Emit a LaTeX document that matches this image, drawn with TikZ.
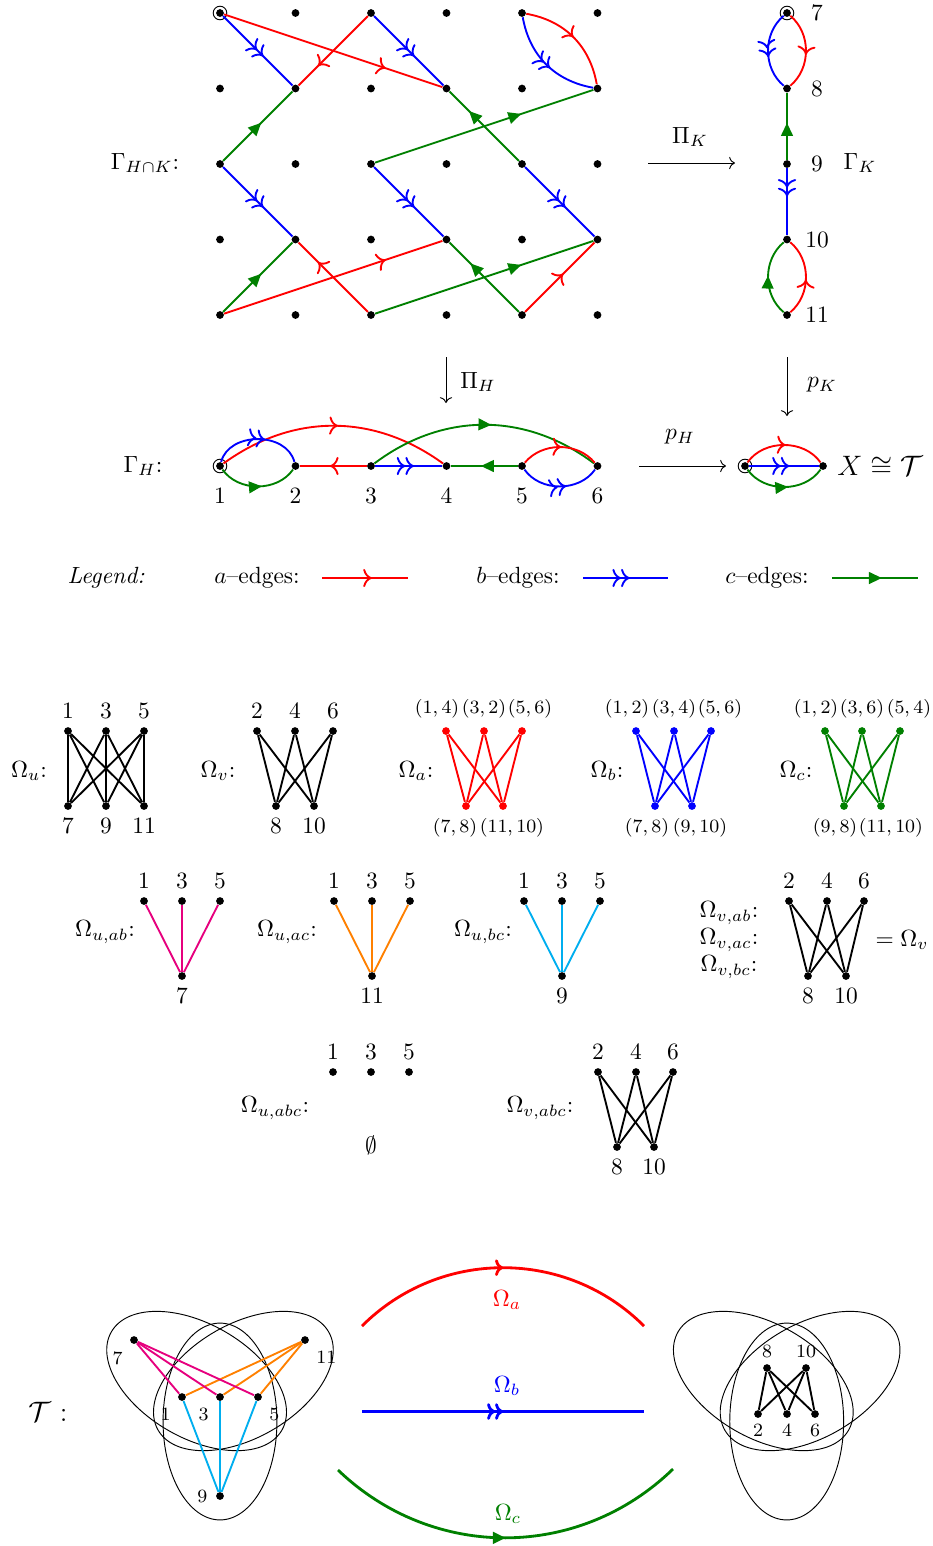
\documentclass[tikz,border=0pt]{standalone}
\usepackage{amsmath,amssymb}
\usepackage{tikz}
\usetikzlibrary{arrows.meta,decorations.markings}
\definecolor{cgreen}{rgb}{0,0.5,0}
\definecolor{abpink}{HTML}{E6007E}
\definecolor{acorange}{HTML}{FF8000}
\definecolor{bccyan}{HTML}{00AEEF}
\tikzset{
  dot/.style={circle,fill,inner sep=0pt,minimum size=3.3pt},
  plab/.style={font=\footnotesize,text=black},
  aedge/.style={red,thick,postaction={decorate},
    decoration={markings,mark=at position #1 with {\arrow{To[scale=1.1]}}}},
  aedge/.default=0.55,
  bedge/.style={blue,thick,postaction={decorate},
    decoration={markings,mark=at position #1 with {\arrow{To[scale=1.1]To[scale=1.1]}}}},
  bedge/.default=0.58,
  cedge/.style={cgreen,thick,postaction={decorate},
    decoration={markings,mark=at position #1 with {\arrow{Triangle[length=5.5pt,width=5pt]}}}},
  cedge/.default=0.55,
  lobe/.style={thin},
}

\begin{document}
\begin{tikzpicture}[x=0.015cm,y=-0.015cm]
  \useasboundingbox (0,0) rectangle (933,1546);

  % Gamma_{H cap K}
  \node (ghk) at (145,163) {$\Gamma_{H\cap K}$:};
  \foreach \i in {0,...,5}
    \foreach \j in {0,...,4}
      \node[dot] (g\i\j) at ({220+75.5*\i},{13+75.5*\j}) {};
  \draw (g00) circle (2.9pt);
  \draw[aedge=0.74] (g00) -- (g31);
  \draw[aedge=0.74] (g04) -- (g33);
  \draw[aedge=0.72] (g20) -- (g11);
  \draw[aedge=0.72] (g24) -- (g13);
  \draw[aedge=0.5] (g40) to[out=-10,in=100] (g51);
  \draw[aedge] (g44) -- (g53);
  \draw[bedge] (g00) -- (g11);
  \draw[bedge] (g02) -- (g13);
  \draw[bedge] (g20) -- (g31);
  \draw[bedge] (g22) -- (g33);
  \draw[bedge=0.55] (g40) to[out=-80,in=170] (g51);
  \draw[bedge] (g42) -- (g53);
  \draw[cedge] (g02) -- (g11);
  \draw[cedge] (g04) -- (g13);
  \draw[cedge=0.67] (g22) -- (g51);
  \draw[cedge=0.67] (g24) -- (g53);
  \draw[cedge=0.72] (g42) -- (g31);
  \draw[cedge=0.7] (g44) -- (g33);

  % Gamma_K
  \foreach \k/\y in {7/13,8/88.5,9/164,10/239.5,11/315} {
    \node[dot] (k\k) at (787,\y) {};
    \node (kl\k) at (817,\y) {\k};
  }
  \draw (k7) circle (2.9pt);
  \draw[bedge] (k7) to[bend right=50] (k8);
  \draw[aedge] (k7) to[bend left=50] (k8);
  \draw[cedge] (k9) -- (k8);
  \draw[bedge=0.42] (k9) -- (k10);
  \draw[cedge=0.52] (k11) to[bend left=50] (k10);
  \draw[aedge=0.47] (k11) to[bend right=50] (k10);
  \node (gk) at (860,163) {$\Gamma_K$};

  % maps
  \coordinate (pik1) at (648,163);
  \coordinate (pik2) at (735,163);
  \draw[->] (pik1) -- (pik2);
  \node (lpik) at (690,137) {$\Pi_K$};
  \coordinate (pih1) at (446,357);
  \coordinate (pih2) at (446,403);
  \draw[->] (pih1) -- (pih2);
  \node (lpih) at (478,382) {$\Pi_H$};
  \coordinate (pk1) at (787,357);
  \coordinate (pk2) at (787,416);
  \draw[->] (pk1) -- (pk2);
  \node (lpk) at (822,385) {$p_K$};
  \coordinate (ph1) at (639,466);
  \coordinate (ph2) at (726,466);
  \draw[->] (ph1) -- (ph2);
  \node (lph) at (680,437) {$p_H$};

  % Gamma_H
  \node (gh) at (143,466) {$\Gamma_H$:};
  \foreach \h/\x in {1/220,2/295.5,3/371,4/446.5,5/522,6/597.5} {
    \node[dot] (h\h) at (\x,466) {};
    \node (hl\h) at (\x,496) {\h};
  }
  \draw (h1) circle (2.9pt);
  \draw[aedge=0.52] (h1) to[bend left=36] (h4);
  \draw[cedge=0.53] (h3) to[bend left=37] (h6);
  \draw[bedge] (h1) to[bend left=75,looseness=1.1] (h2);
  \draw[cedge] (h1) to[bend right=55] (h2);
  \draw[aedge] (h3) -- (h2);
  \draw[bedge] (h3) -- (h4);
  \draw[cedge] (h5) -- (h4);
  \draw[aedge=0.52] (h5) to[bend left=50] (h6);
  \draw[bedge] (h5) to[bend right=55] (h6);

  % X = T
  \node[dot] (x0) at (745,466) {};
  \node[dot] (x1) at (823,466) {};
  \draw (x0) circle (2.9pt);
  \draw[aedge=0.52] (x0) to[bend left=55] (x1);
  \draw[bedge] (x0) -- (x1);
  \draw[cedge] (x0) to[bend right=55] (x1);
  \node[font=\large] (xlab) at (880,466) {$X\cong\mathcal{T}$};

  % legend
  \node (leg) at (106,578) {\textit{Legend:}};
  \node (lga) at (257,578) {$a$--edges:};
  \coordinate (la1) at (322,578);
  \coordinate (la2) at (408,578);
  \draw[aedge=0.58] (la1) -- (la2);
  \node (lgb) at (518,578) {$b$--edges:};
  \coordinate (lb1) at (583,578);
  \coordinate (lb2) at (668,578);
  \draw[bedge=0.55] (lb1) -- (lb2);
  \node (lgc) at (767,578) {$c$--edges:};
  \coordinate (lc1) at (832,578);
  \coordinate (lc2) at (918,578);
  \draw[cedge=0.58] (lc1) -- (lc2);

  % Omega_u
  \node (omu) at (29,771) {$\Omega_u$:};
  \foreach \n/\x in {1/68,3/106,5/144}
    \node[dot,label=above:$\n$] (u\n) at (\x,731) {};
  \foreach \n/\x in {7/68,9/106,11/144}
    \node[dot,label=below:$\n$] (u\n) at (\x,806) {};
  \foreach \s in {1,3,5}
    \foreach \t in {7,9,11}
      \draw[thick] (u\s) -- (u\t);

  % Omega_v
  \node (omv) at (218,771) {$\Omega_v$:};
  \foreach \n/\x in {2/257,4/295,6/333}
    \node[dot,label=above:$\n$] (v\n) at (\x,731) {};
  \foreach \n/\x in {8/276,10/314}
    \node[dot,label=below:$\n$] (v\n) at (\x,806) {};
  \foreach \s in {2,4,6}
    \foreach \t in {8,10}
      \draw[thick] (v\s) -- (v\t);

  % Omega_a
  \node (oma) at (416,771) {$\Omega_a$:};
  \node[dot,red,label={[plab,xshift=-3.8pt]above:$(1,4)$}] (a14) at (446,731) {};
  \node[dot,red,label={[plab]above:$(3,2)$}] (a32) at (484,731) {};
  \node[dot,red,label={[plab,xshift=3.4pt]above:$(5,6)$}] (a56) at (522,731) {};
  \node[dot,red,label={[plab,xshift=-4.7pt]below:$(7,8)$}] (a78) at (466,806) {};
  \node[dot,red,label={[plab,xshift=3.8pt]below:$(11,10)$}] (a1110) at (503,806) {};
  \foreach \s in {a14,a32,a56}
    \foreach \t in {a78,a1110}
      \draw[red,thick] (\s) -- (\t);

  % Omega_b
  \node (omb) at (607,771) {$\Omega_b$:};
  \node[dot,blue,label={[plab,xshift=-3.8pt]above:$(1,2)$}] (b12) at (636,731) {};
  \node[dot,blue,label={[plab]above:$(3,4)$}] (b34) at (674,731) {};
  \node[dot,blue,label={[plab,xshift=3.8pt]above:$(5,6)$}] (b56) at (711,731) {};
  \node[dot,blue,label={[plab,xshift=-3.4pt]below:$(7,8)$}] (b78) at (655,806) {};
  \node[dot,blue,label={[plab,xshift=3.4pt]below:$(9,10)$}] (b910) at (692,806) {};
  \foreach \s in {b12,b34,b56}
    \foreach \t in {b78,b910}
      \draw[blue,thick] (\s) -- (\t);

  % Omega_c
  \node (omc) at (796,771) {$\Omega_c$:};
  \node[dot,cgreen,label={[plab,xshift=-3.8pt]above:$(1,2)$}] (c12) at (825,731) {};
  \node[dot,cgreen,label={[plab]above:$(3,6)$}] (c36) at (862,731) {};
  \node[dot,cgreen,label={[plab,xshift=3.8pt]above:$(5,4)$}] (c54) at (900,731) {};
  \node[dot,cgreen,label={[plab,xshift=-3.8pt]below:$(9,8)$}] (c98) at (844,806) {};
  \node[dot,cgreen,label={[plab,xshift=4.2pt]below:$(11,10)$}] (c1110) at (881,806) {};
  \foreach \s in {c12,c36,c54}
    \foreach \t in {c98,c1110}
      \draw[cgreen,thick] (\s) -- (\t);

  % Omega_{u,ab}
  \node (omuab) at (105,932) {$\Omega_{u,ab}$:};
  \foreach \n/\x in {1/144,3/182,5/220}
    \node[dot,label=above:$\n$] (p\n) at (\x,901) {};
  \node[dot,label=below:$7$] (p7) at (182,976) {};
  \foreach \n in {1,3,5}
    \draw[abpink,thick] (p\n) -- (p7);

  % Omega_{u,ac}
  \node (omuac) at (287,932) {$\Omega_{u,ac}$:};
  \foreach \n/\x in {1/334,3/372,5/410}
    \node[dot,label=above:$\n$] (q\n) at (\x,901) {};
  \node[dot,label=below:$11$] (q11) at (372,976) {};
  \foreach \n in {1,3,5}
    \draw[acorange,thick] (q\n) -- (q11);

  % Omega_{u,bc}
  \node (omubc) at (483,932) {$\Omega_{u,bc}$:};
  \foreach \n/\x in {1/524,3/562,5/600}
    \node[dot,label=above:$\n$] (r\n) at (\x,901) {};
  \node[dot,label=below:$9$] (r9) at (562,976) {};
  \foreach \n in {1,3,5}
    \draw[bccyan,thick] (r\n) -- (r9);

  % Omega_{v,ab} = Omega_{v,ac} = Omega_{v,bc}
  \node (omvab) at (729,913) {$\Omega_{v,ab}$:};
  \node (omvac) at (729,940) {$\Omega_{v,ac}$:};
  \node (omvbc) at (729,967) {$\Omega_{v,bc}$:};
  \foreach \n/\x in {2/789,4/827,6/864}
    \node[dot,label=above:$\n$] (w\n) at (\x,901) {};
  \foreach \n/\x in {8/808,10/846}
    \node[dot,label=below:$\n$] (w\n) at (\x,976) {};
  \foreach \s in {2,4,6}
    \foreach \t in {8,10}
      \draw[thick] (w\s) -- (w\t);
  \node (eqv) at (902,940) {$=\Omega_v$};

  % Omega_{u,abc}
  \node (omuabc) at (275,1108) {$\Omega_{u,abc}$:};
  \foreach \n/\x in {1/333,3/371,5/409}
    \node[dot,label=above:$\n$] (s\n) at (\x,1072) {};
  \node (empt) at (371,1145) {$\emptyset$};

  % Omega_{v,abc}
  \node (omvabc) at (540,1108) {$\Omega_{v,abc}$:};
  \foreach \n/\x in {2/598,4/636,6/673}
    \node[dot,label=above:$\n$] (t\n) at (\x,1072) {};
  \foreach \n/\x in {8/617,10/654}
    \node[dot,label=below:$\n$] (t\n) at (\x,1147) {};
  \foreach \s in {2,4,6}
    \foreach \t in {8,10}
      \draw[thick] (t\s) -- (t\t);

  % T, left
  \node[font=\large] (tcal) at (48,1412) {$\mathcal{T}$ :};
  \foreach \r in {0,120,240}
    \draw[lobe,shift={(220,1394.5)},rotate=\r] (0,27) ellipse (24.3pt and 42pt);
  \node[dot,label={[plab]below left:7}] (n7) at (134,1340) {};
  \node[dot,label={[plab]below right:11}] (n11) at (305,1340) {};
  \node[dot,label={[plab]below left:1}] (n1) at (182,1397) {};
  \node[dot,label={[plab]below left:3}] (n3) at (220,1397) {};
  \node[dot,label={[plab]below right:5}] (n5) at (258,1397) {};
  \node[dot,label={[plab]left:9}] (n9) at (220,1496) {};
  \foreach \n in {1,3,5} {
    \draw[abpink,thick] (n7) -- (n\n);
    \draw[acorange,thick] (n11) -- (n\n);
    \draw[bccyan,thick] (n9) -- (n\n);
  }

  % Omega_a, Omega_b, Omega_c
  \coordinate (ma1) at (362,1326);
  \coordinate (ma2) at (644,1326);
  \draw[red,very thick,postaction={decorate},
    decoration={markings,mark=at position 0.5 with {\arrow{To[scale=0.8]}}}]
    (ma1) to[bend left=45] (ma2);
  \node[red] (lma) at (507,1300) {$\Omega_a$};
  \coordinate (mb1) at (362,1411.5);
  \coordinate (mb2) at (644,1411.5);
  \draw[blue,very thick,postaction={decorate},
    decoration={markings,mark=at position 0.5 with {\arrow{To[scale=0.8]To[scale=0.8]}}}]
    (mb1) -- (mb2);
  \node[blue] (lmb) at (507,1386) {$\Omega_b$};
  \coordinate (mc1) at (338,1470);
  \coordinate (mc2) at (673,1469);
  \draw[cedge=0.5,very thick] (mc1) to[bend right=44] (mc2);
  \node[cgreen] (lmc) at (508,1514) {$\Omega_c$};

  % T, right
  \foreach \r in {0,120,240}
    \draw[lobe,shift={(786.7,1394.5)},rotate=\r] (0,27) ellipse (24.3pt and 42pt);
  \node[dot,label={[plab,label distance=-1pt]above:8}] (m8) at (767,1368) {};
  \node[dot,label={[plab,label distance=-1pt]above:10}] (m10) at (806,1368) {};
  \node[dot,label={[plab,label distance=-1pt]below:2}] (m2) at (758,1414) {};
  \node[dot,label={[plab,label distance=-1pt]below:4}] (m4) at (787,1414) {};
  \node[dot,label={[plab,label distance=-1pt]below:6}] (m6) at (815,1414) {};
  \foreach \s in {m8,m10}
    \foreach \t in {m2,m4,m6}
      \draw[thick] (\s) -- (\t);
\end{tikzpicture}
\end{document}
